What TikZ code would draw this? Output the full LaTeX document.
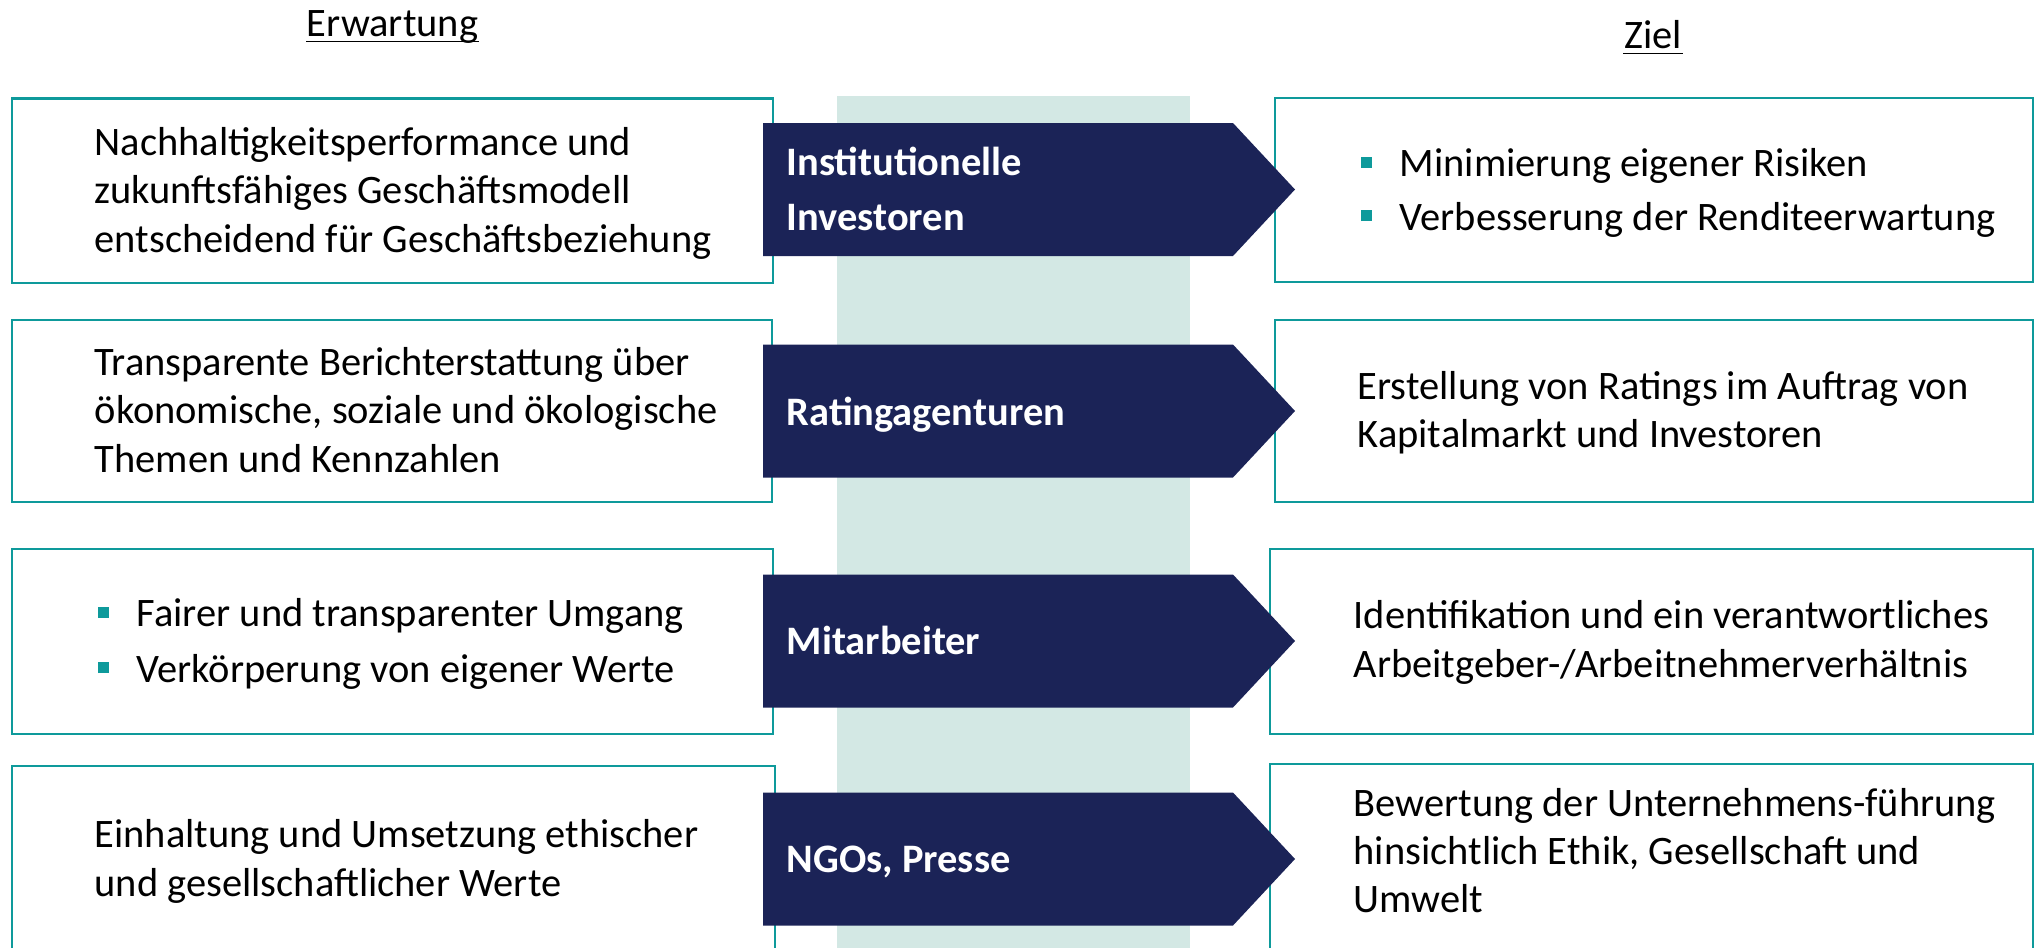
\documentclass[tikz,border=0pt]{standalone}
\usepackage{fontspec}
\setmainfont{Carlito}
\usetikzlibrary{calc}

\definecolor{navy}{RGB}{27,35,87}
\definecolor{tealline}{RGB}{14,154,155}
\definecolor{bandgreen}{RGB}{211,232,228}

\newcommand{\bulletitem}{\makebox[0.39cm][l]{\textcolor{tealline}{\rule[0.09cm]{0.11cm}{0.11cm}}}}

\begin{document}
\begin{tikzpicture}[x=0.01cm, y=-0.01cm,
    box/.style={draw=tealline, line width=0.6pt, fill=white, inner sep=0pt, minimum height=1.84cm},
    txt/.style={anchor=base west, align=left, inner sep=0pt, font=\fontsize{11.5}{13.66}\selectfont},
    albl/.style={anchor=base west, align=left, inner sep=0pt, text=white, font=\fontsize{11.5}{15.36}\selectfont\bfseries},
    head/.style={anchor=base, inner sep=0pt, font=\fontsize{11.5}{13.66}\selectfont},
    arrowfill/.style={fill=navy}]

    \useasboundingbox (0,0) rectangle (2035,948);

    % middle band
    \fill[bandgreen] (837,96) rectangle (1190,948);

    % --- headings ---
    \node[head] (erw) at (392.5,36.7) {Erwartung};
    \node[head] (ziel) at (1653,48.7) {Ziel};
    \draw[line width=0.4pt] ([yshift=-0.05cm]erw.base west) -- ([yshift=-0.05cm]erw.base east);
    \draw[line width=0.4pt] ([yshift=-0.05cm]ziel.base west) -- ([yshift=-0.05cm]ziel.base east);

    % --- boxes left (Erwartung) ---
    \node[box, minimum width=7.61cm] (e1) at (392.5,190.5) {};
    \node[box, minimum width=7.60cm, minimum height=1.82cm] (e2) at (392,411) {};
    \node[box, minimum width=7.61cm, minimum height=1.85cm] (e3) at (392.5,641.5) {};
    \node[box, minimum width=7.63cm, minimum height=1.85cm] (e4) at (393.5,858.5) {};

    % --- boxes right (Ziel) ---
    \node[box, minimum width=7.58cm] (z1) at (1654,190) {};
    \node[box, minimum width=7.58cm, minimum height=1.82cm] (z2) at (1654,411) {};
    \node[box, minimum width=7.63cm, minimum height=1.85cm] (z3) at (1651.5,641.5) {};
    \node[box, minimum width=7.63cm, minimum height=1.87cm] (z4) at (1651.5,857.5) {};

    % --- arrows ---
    \foreach \y in {189.5,411,641,859} {%
        \fill[arrowfill] (763,\y-66.5) -- (1233,\y-66.5) -- (1295,\y) -- (1233,\y+66.5) -- (763,\y+66.5) -- cycle;%
    }

    % --- texts (base = last line) ---
    \node[txt] (e1t) at (94,252) {Nachhaltigkeitsperformance und\\zukunftsfähiges Geschäftsmodell\\entscheidend für Geschäftsbeziehung};
    \node[txt] (e2t) at (94,472) {Transparente Berichterstattung über\\ökonomische, soziale und ökologische\\Themen und Kennzahlen};
    \node[txt] (e3t) at (97,682) {\bulletitem Fairer und transparenter Umgang\\[0.07cm]\bulletitem Verkörperung von eigener Werte};
    \node[txt] (e4t) at (94,896) {Einhaltung und Umsetzung ethischer\\und gesellschaftlicher Werte};

    \node[albl] (a1t) at (786,230) {Institutionelle\\Investoren};
    \node[albl] (a2t) at (786,425) {Ratingagenturen};
    \node[albl] (a3t) at (786,654) {Mitarbeiter};
    \node[albl] (a4t) at (786,872) {NGOs, Presse};

    \node[txt] (z1t) at (1360,230) {\bulletitem Minimierung eigener Risiken\\[0.05cm]\bulletitem Verbesserung der Renditeerwartung};
    \node[txt] (z2t) at (1357,447.7) {Erstellung von Ratings im Auftrag von\\Kapitalmarkt und Investoren};
    \node[txt] (z3t) at (1353,677) {Identifikation und ein verantwortliches\\Arbeitgeber-/Arbeitnehmerverhältnis};
    \node[txt] (z4t) at (1353,912.7) {Bewertung der Unternehmens-führung\\hinsichtlich Ethik, Gesellschaft und\\Umwelt};

\end{tikzpicture}
\end{document}
